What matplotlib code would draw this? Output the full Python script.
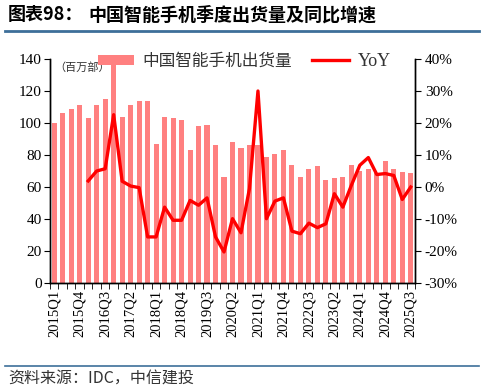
#!/usr/bin/env python3
"""China smartphone quarterly shipments with YoY growth (IDC)."""

import matplotlib
matplotlib.use("Agg")
import matplotlib.pyplot as plt
from matplotlib.lines import Line2D
from matplotlib.patches import Patch

plt.rcParams.update(
    {
        "font.family": ["Liberation Serif", "Noto Sans CJK SC", "DejaVu Sans"],
        "axes.linewidth": 1.0,
    }
)
CJK = ["Noto Sans CJK SC", "DejaVu Sans"]

# Quarters 2015Q1 .. 2025Q3
quarters = [f"{y}Q{q}" for y in range(2015, 2026) for q in range(1, 5)][:43]

# Shipments, million units
shipments = [
    100, 106.5, 108.5, 111, 103, 111, 115, 138,
    104, 111, 114, 114, 87, 104, 103, 102,
    83, 98, 99, 86, 66.5, 88, 84.5, 86,
    86, 78.5, 80.5, 83, 74, 66.5, 71, 73,
    64.5, 65.5, 66.5, 73.5, 70, 71.5, 69, 76,
    71.5, 69.5, 69,
]

# YoY growth in %, starts at 2016Q1
yoy = [None] * 4 + [
    1.9, 5.0, 5.7, 22.6, 1.8, 0.3, -0.2, -15.6,
    -15.6, -6.3, -10.4, -10.4, -4.2, -5.7, -3.4, -15.6,
    -20.3, -9.9, -14.3, -0.5, 30.0, -9.9, -4.4, -3.4,
    -13.8, -14.6, -11.3, -12.7, -11.5, -2.1, -6.3, 0.5,
    6.8, 9.2, 3.9, 4.2, 3.6, -3.9, 0.0,
]

label_every = 3

BAR_COLOR = "#FF8080"
LINE_COLOR = "#FF0000"
RULE_COLOR = "#3D6F99"

fig = plt.figure(figsize=(4.84, 3.92), dpi=100)
ax = fig.add_axes([50 / 484, 1 - 283 / 392, 365 / 484, 224 / 392])
ax2 = ax.twinx()

x = list(range(len(quarters)))
ax.bar(x, shipments, width=0.6, color=BAR_COLOR, zorder=1)

yx = [i for i, v in zip(x, yoy) if v is not None]
yv = [v for v in yoy if v is not None]
ax2.plot(yx, yv, color=LINE_COLOR, linewidth=2.4, zorder=3)

ax.set_xlim(-0.5, len(quarters) - 0.5)
ax.set_ylim(0, 140)
ax.set_yticks(range(0, 141, 20))
ax2.set_ylim(-30, 40)
ax2.set_yticks(range(-30, 41, 10))
ax2.set_yticklabels([f"{v}%" for v in range(-30, 41, 10)])

ax.set_xticks(x[::label_every])
ax.set_xticklabels(quarters[::label_every], rotation=90)
ax.set_xticks([i - 0.5 for i in range(len(quarters) + 1)], minor=True)
ax.tick_params(axis="x", which="major", length=0, pad=5, labelsize=10.5)
ax.tick_params(axis="x", which="minor", length=4, direction="out")
ax.tick_params(axis="y", length=4, direction="out", labelsize=11, pad=2)
ax2.tick_params(axis="y", length=4, direction="out", labelsize=11, pad=3)

for a in (ax, ax2):
    a.spines["top"].set_visible(False)

ax.text(0.012, 0.962, "（百万部）", transform=ax.transAxes, fontsize=8,
        family=CJK, va="center", ha="left", color="#333333")

handles = [
    Patch(facecolor=BAR_COLOR, edgecolor="none", label="中国智能手机出货量"),
    Line2D([0], [0], color=LINE_COLOR, linewidth=2.4, label="YoY"),
]
leg = ax2.legend(handles=handles, loc="center left", bbox_to_anchor=(0.131, 0.99),
                 ncol=2, frameon=False, handlelength=2.2, handleheight=0.5,
                 columnspacing=1.2, handletextpad=0.5, borderpad=0, borderaxespad=0,
                 prop={"family": ["Noto Sans CJK SC", "Liberation Serif"], "size": 12})
for t in leg.get_texts():
    t.set_color("#333333")
leg.get_texts()[1].set_family(["Liberation Serif"])
leg.get_texts()[1].set_fontsize(13)

# Title with rule below
fig.text(8 / 484, 1 - 15 / 392, "图表98：", family=CJK, fontsize=13,
         fontweight="bold", va="center", ha="left")
fig.text(88 / 484, 1 - 15 / 392, "中国智能手机季度出货量及同比增速", family=CJK,
         fontsize=13, fontweight="bold", va="center", ha="left")
fig.add_artist(Line2D([5 / 484, 479 / 484], [1 - 30.5 / 392] * 2, color=RULE_COLOR,
                      linewidth=2.0, transform=fig.transFigure))

# Source footer
fig.add_artist(Line2D([5 / 484, 479 / 484], [1 - 366 / 392] * 2, color=RULE_COLOR,
                      linewidth=1.2, transform=fig.transFigure))
fig.text(8 / 484, 1 - 379 / 392, "资料来源：IDC，中信建投", family=CJK, fontsize=11.5,
         style="italic", va="center", ha="left", color="#333333")

fig.savefig("out.png", dpi=100)
